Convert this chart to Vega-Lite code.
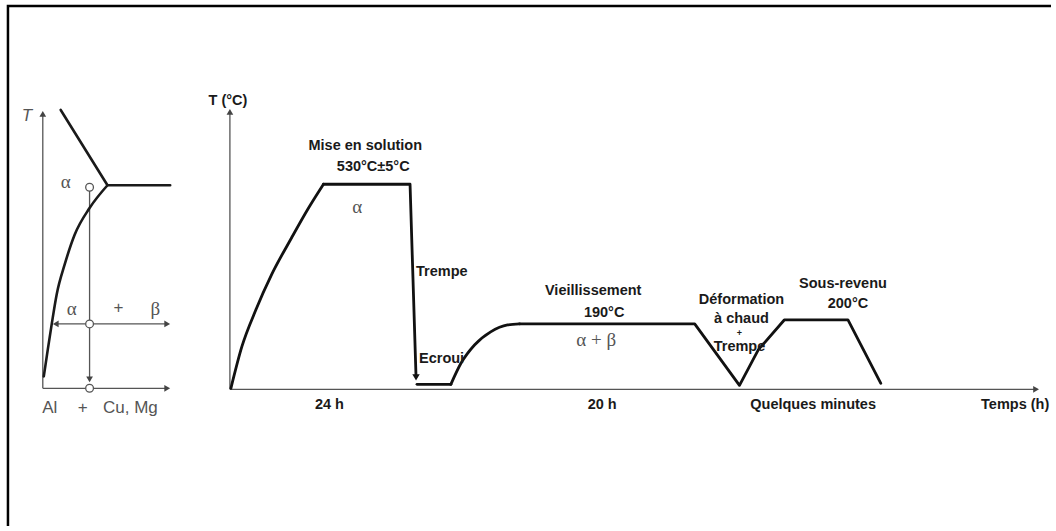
{
  "$schema": "https://vega.github.io/schema/vega-lite/v6.json",
  "width": 1056,
  "height": 531,
  "autosize": {"type": "fit", "contains": "padding"},
  "padding": 0,
  "background": "white",
  "config": {"view": {"stroke": null}},
  "datasets": {
    "lines": [
      {"id": "border", "grp": "border", "i": 0, "x": 8, "y": 531},
      {"id": "border", "grp": "border", "i": 1, "x": 8, "y": 6},
      {"id": "border", "grp": "border", "i": 2, "x": 1056, "y": 6},

      {"id": "lT", "grp": "thin", "i": 0, "x": 43, "y": 392},
      {"id": "lT", "grp": "thin", "i": 1, "x": 43, "y": 114},
      {"id": "lX", "grp": "thin", "i": 0, "x": 43, "y": 392},
      {"id": "lX", "grp": "thin", "i": 1, "x": 168, "y": 392},
      {"id": "lV", "grp": "thin", "i": 0, "x": 90, "y": 189},
      {"id": "lV", "grp": "thin", "i": 1, "x": 90, "y": 384},
      {"id": "lH", "grp": "thin", "i": 0, "x": 56, "y": 327},
      {"id": "lH", "grp": "thin", "i": 1, "x": 169, "y": 327},
      {"id": "mT", "grp": "thin", "i": 0, "x": 231, "y": 393},
      {"id": "mT", "grp": "thin", "i": 1, "x": 231, "y": 112},
      {"id": "mX", "grp": "thin", "i": 0, "x": 231, "y": 393},
      {"id": "mX", "grp": "thin", "i": 1, "x": 1042, "y": 393},

      {"id": "liq", "grp": "straight", "i": 0, "x": 61, "y": 111},
      {"id": "liq", "grp": "straight", "i": 1, "x": 108, "y": 187},
      {"id": "liq", "grp": "straight", "i": 2, "x": 171, "y": 187},
      {"id": "sol", "grp": "curve", "i": 0, "x": 44, "y": 380},
      {"id": "sol", "grp": "curve", "i": 1, "x": 48, "y": 353},
      {"id": "sol", "grp": "curve", "i": 2, "x": 52, "y": 327},
      {"id": "sol", "grp": "curve", "i": 3, "x": 57, "y": 297},
      {"id": "sol", "grp": "curve", "i": 4, "x": 65, "y": 267},
      {"id": "sol", "grp": "curve", "i": 5, "x": 75, "y": 237},
      {"id": "sol", "grp": "curve", "i": 6, "x": 90, "y": 210},
      {"id": "sol", "grp": "curve", "i": 7, "x": 108, "y": 187},

      {"id": "rise1", "grp": "pcurve", "i": 0, "x": 232, "y": 392},
      {"id": "rise1", "grp": "pcurve", "i": 1, "x": 243, "y": 350},
      {"id": "rise1", "grp": "pcurve", "i": 2, "x": 257, "y": 313},
      {"id": "rise1", "grp": "pcurve", "i": 3, "x": 273, "y": 277},
      {"id": "rise1", "grp": "pcurve", "i": 4, "x": 293, "y": 240},
      {"id": "rise1", "grp": "pcurve", "i": 5, "x": 310, "y": 210},
      {"id": "rise1", "grp": "pcurve", "i": 6, "x": 325, "y": 186},
      {"id": "hold1", "grp": "pstraight", "i": 0, "x": 325, "y": 186},
      {"id": "hold1", "grp": "pstraight", "i": 1, "x": 412, "y": 186},
      {"id": "hold1", "grp": "pstraight", "i": 2, "x": 418, "y": 380},
      {"id": "flat", "grp": "pstraight", "i": 0, "x": 419, "y": 388},
      {"id": "flat", "grp": "pstraight", "i": 1, "x": 453, "y": 388},
      {"id": "rise2", "grp": "pcurve", "i": 0, "x": 453, "y": 388},
      {"id": "rise2", "grp": "pcurve", "i": 1, "x": 463, "y": 367},
      {"id": "rise2", "grp": "pcurve", "i": 2, "x": 477, "y": 348},
      {"id": "rise2", "grp": "pcurve", "i": 3, "x": 493, "y": 335},
      {"id": "rise2", "grp": "pcurve", "i": 4, "x": 510, "y": 328},
      {"id": "rise2", "grp": "pcurve", "i": 5, "x": 522, "y": 327},
      {"id": "rest", "grp": "pstraight", "i": 0, "x": 522, "y": 327},
      {"id": "rest", "grp": "pstraight", "i": 1, "x": 698, "y": 327},
      {"id": "rest", "grp": "pstraight", "i": 2, "x": 743, "y": 389},
      {"id": "rest", "grp": "pstraight", "i": 3, "x": 762, "y": 353},
      {"id": "rest", "grp": "pstraight", "i": 4, "x": 788, "y": 323},
      {"id": "rest", "grp": "pstraight", "i": 5, "x": 852, "y": 323},
      {"id": "rest", "grp": "pstraight", "i": 6, "x": 885, "y": 387}
    ],
    "arrows": [
      {"grp": "thin", "dir": "up", "x": 43, "y": 115},
      {"grp": "thin", "dir": "right", "x": 168, "y": 392},
      {"grp": "thin", "dir": "down", "x": 90, "y": 383},
      {"grp": "thin", "dir": "left", "x": 56, "y": 327},
      {"grp": "thin", "dir": "right", "x": 168, "y": 327},
      {"grp": "thin", "dir": "up", "x": 231, "y": 113},
      {"grp": "thin", "dir": "right", "x": 1041, "y": 393},
      {"grp": "thick", "dir": "down", "x": 418, "y": 381}
    ],
    "circles": [
      {"x": 90, "y": 189},
      {"x": 90, "y": 327},
      {"x": 90, "y": 392}
    ],
    "labels": [
      {"kind": "litalic", "text": "T", "x": 27, "y": 117},
      {"kind": "greek", "text": "α", "x": 66, "y": 184},
      {"kind": "greek", "text": "α", "x": 72, "y": 312},
      {"kind": "lsans", "text": "+", "x": 119, "y": 311},
      {"kind": "greek", "text": "β", "x": 156, "y": 312},
      {"kind": "lsans", "text": "Al", "x": 50, "y": 412},
      {"kind": "lsans", "text": "+", "x": 83, "y": 412},
      {"kind": "lsans", "text": "Cu, Mg", "x": 131, "y": 412},

      {"kind": "bold", "text": "T (°C)", "x": 229, "y": 102},
      {"kind": "bold", "text": "Mise en solution", "x": 367, "y": 147},
      {"kind": "bold", "text": "530°C±5°C", "x": 375, "y": 169},
      {"kind": "greek", "text": "α", "x": 359, "y": 209},
      {"kind": "boldL", "text": "Trempe", "x": 418, "y": 275},
      {"kind": "boldL", "text": "Ecroui", "x": 421, "y": 362},
      {"kind": "bold", "text": "Vieillissement", "x": 596, "y": 294},
      {"kind": "bold", "text": "190°C", "x": 607, "y": 316},
      {"kind": "greek", "text": "α + β", "x": 599, "y": 343},
      {"kind": "bold", "text": "Déformation", "x": 745, "y": 303},
      {"kind": "bold", "text": "à chaud", "x": 745, "y": 322},
      {"kind": "small", "text": "+", "x": 743, "y": 336},
      {"kind": "bold", "text": "Trempe", "x": 743, "y": 350},
      {"kind": "bold", "text": "Sous-revenu", "x": 847, "y": 287},
      {"kind": "bold", "text": "200°C", "x": 852, "y": 307},
      {"kind": "bold", "text": "24 h", "x": 331, "y": 409},
      {"kind": "bold", "text": "20 h", "x": 605, "y": 409},
      {"kind": "bold", "text": "Quelques minutes", "x": 817, "y": 409},
      {"kind": "bold", "text": "Temps (h)", "x": 1020, "y": 409}
    ]
  },
  "encoding": {
    "x": {"field": "x", "type": "quantitative", "scale": {"domain": [0, 1056], "nice": false, "zero": false}, "axis": null},
    "y": {"field": "y", "type": "quantitative", "scale": {"domain": [0, 531], "nice": false, "zero": false, "reverse": true}, "axis": null}
  },
  "layer": [
    {
      "data": {"name": "lines"},
      "transform": [{"filter": "datum.grp === 'border'"}],
      "mark": {"type": "line", "color": "#000000", "strokeWidth": 2.5, "clip": false},
      "encoding": {"detail": {"field": "id"}, "order": {"field": "i", "type": "quantitative"}}
    },
    {
      "data": {"name": "lines"},
      "transform": [{"filter": "datum.grp === 'thin'"}],
      "mark": {"type": "line", "color": "#555555", "strokeWidth": 1.3},
      "encoding": {"detail": {"field": "id"}, "order": {"field": "i", "type": "quantitative"}}
    },
    {
      "data": {"name": "lines"},
      "transform": [{"filter": "datum.grp === 'straight'"}],
      "mark": {"type": "line", "color": "#1a1a1a", "strokeWidth": 2.6, "strokeJoin": "round", "strokeCap": "round"},
      "encoding": {"detail": {"field": "id"}, "order": {"field": "i", "type": "quantitative"}}
    },
    {
      "data": {"name": "lines"},
      "transform": [{"filter": "datum.grp === 'curve'"}],
      "mark": {"type": "line", "color": "#1a1a1a", "strokeWidth": 2.6, "strokeCap": "round", "interpolate": "monotone"},
      "encoding": {"detail": {"field": "id"}, "order": {"field": "i", "type": "quantitative"}}
    },
    {
      "data": {"name": "lines"},
      "transform": [{"filter": "datum.grp === 'pstraight'"}],
      "mark": {"type": "line", "color": "#111111", "strokeWidth": 2.8, "strokeJoin": "round", "strokeCap": "round"},
      "encoding": {"detail": {"field": "id"}, "order": {"field": "i", "type": "quantitative"}}
    },
    {
      "data": {"name": "lines"},
      "transform": [{"filter": "datum.grp === 'pcurve'"}],
      "mark": {"type": "line", "color": "#111111", "strokeWidth": 2.8, "strokeCap": "round", "interpolate": "monotone"},
      "encoding": {"detail": {"field": "id"}, "order": {"field": "i", "type": "quantitative"}}
    },
    {
      "data": {"name": "arrows"},
      "transform": [{"filter": "datum.grp === 'thin'"}],
      "mark": {"type": "point", "filled": true, "color": "#444444", "size": 45, "opacity": 1},
      "encoding": {"shape": {"field": "dir", "type": "nominal", "scale": {"domain": ["up", "down", "left", "right"], "range": ["triangle-up", "triangle-down", "triangle-left", "triangle-right"]}, "legend": null}}
    },
    {
      "data": {"name": "arrows"},
      "transform": [{"filter": "datum.grp === 'thick'"}],
      "mark": {"type": "point", "filled": true, "color": "#111111", "size": 55, "opacity": 1},
      "encoding": {"shape": {"field": "dir", "type": "nominal", "scale": {"domain": ["up", "down", "left", "right"], "range": ["triangle-up", "triangle-down", "triangle-left", "triangle-right"]}, "legend": null}}
    },
    {
      "data": {"name": "circles"},
      "mark": {"type": "point", "shape": "circle", "filled": true, "fill": "white", "stroke": "#555555", "strokeWidth": 1.3, "size": 60, "opacity": 1}
    },
    {
      "data": {"name": "labels"},
      "transform": [{"filter": "datum.kind === 'bold'"}],
      "mark": {"type": "text", "font": "Liberation Sans", "fontWeight": "bold", "fontSize": 14.5, "color": "#1a1a1a", "align": "center", "baseline": "middle"},
      "encoding": {"text": {"field": "text"}}
    },
    {
      "data": {"name": "labels"},
      "transform": [{"filter": "datum.kind === 'boldL'"}],
      "mark": {"type": "text", "font": "Liberation Sans", "fontWeight": "bold", "fontSize": 14.5, "color": "#1a1a1a", "align": "left", "baseline": "middle"},
      "encoding": {"text": {"field": "text"}}
    },
    {
      "data": {"name": "labels"},
      "transform": [{"filter": "datum.kind === 'small'"}],
      "mark": {"type": "text", "font": "Liberation Sans", "fontWeight": "bold", "fontSize": 9, "color": "#1a1a1a", "align": "center", "baseline": "middle"},
      "encoding": {"text": {"field": "text"}}
    },
    {
      "data": {"name": "labels"},
      "transform": [{"filter": "datum.kind === 'greek'"}],
      "mark": {"type": "text", "font": "Liberation Serif", "fontSize": 19, "color": "#555555", "align": "center", "baseline": "middle"},
      "encoding": {"text": {"field": "text"}}
    },
    {
      "data": {"name": "labels"},
      "transform": [{"filter": "datum.kind === 'lsans'"}],
      "mark": {"type": "text", "font": "Liberation Sans Narrow, Liberation Sans", "fontSize": 17, "color": "#555555", "align": "center", "baseline": "middle"},
      "encoding": {"text": {"field": "text"}}
    },
    {
      "data": {"name": "labels"},
      "transform": [{"filter": "datum.kind === 'litalic'"}],
      "mark": {"type": "text", "font": "Liberation Sans", "fontStyle": "italic", "fontSize": 17, "color": "#555555", "align": "center", "baseline": "middle"},
      "encoding": {"text": {"field": "text"}}
    }
  ]
}
